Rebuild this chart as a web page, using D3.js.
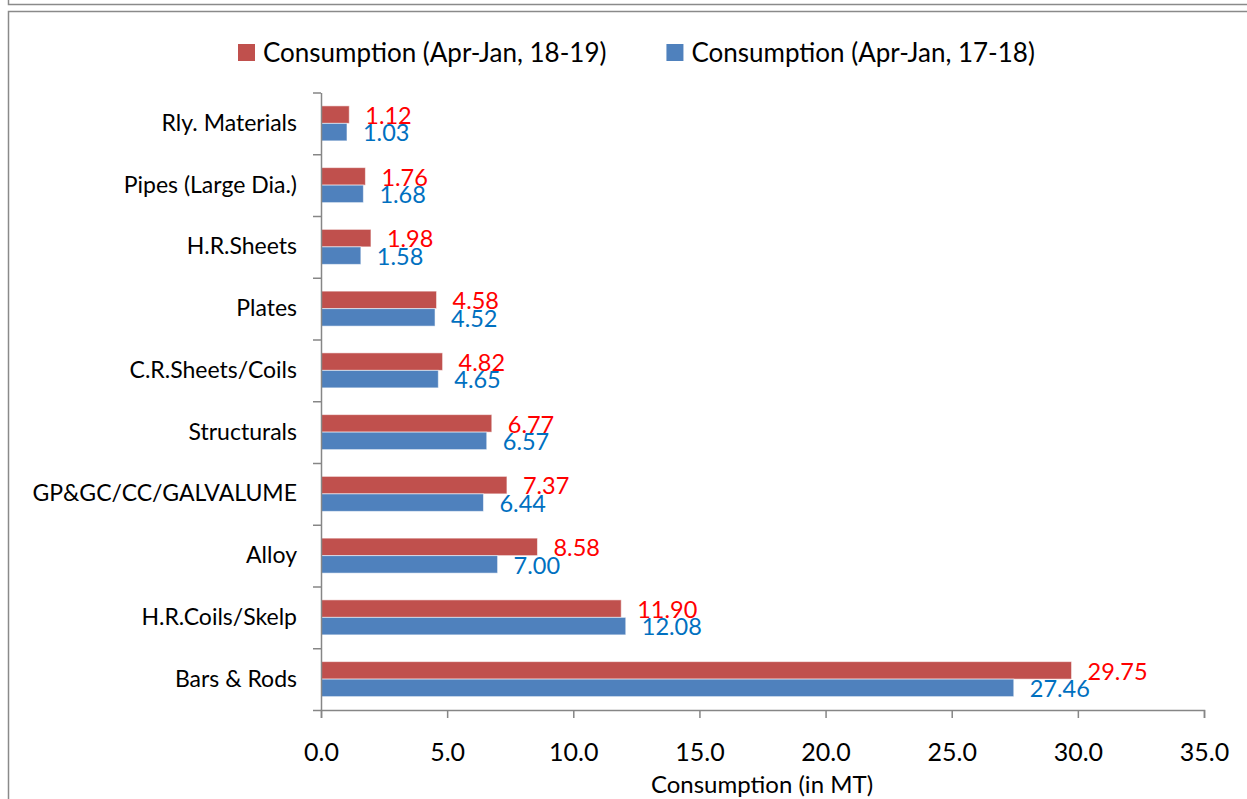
<!DOCTYPE html>
<html>
<head>
<meta charset="utf-8">
<script src="https://cdn.jsdelivr.net/npm/d3@7"></script>
<style>
  body { margin: 0; background: #fff; }
  svg { display: block; font-family: Lato, "Open Sans", sans-serif; }
</style>
</head>
<body>
<svg id="chart" width="1247" height="799"></svg>
<script>
// data, top to bottom as in the chart
const categories = ["Rly. Materials", "Pipes (Large Dia.)", "H.R.Sheets", "Plates", "C.R.Sheets/Coils",
    "Structurals", "GP&GC/CC/GALVALUME", "Alloy", "H.R.Coils/Skelp", "Bars & Rods"];
const cons1819 = [1.12, 1.76, 1.98, 4.58, 4.82, 6.77, 7.37, 8.58, 11.90, 29.75];
const cons1718 = [1.03, 1.68, 1.58, 4.52, 4.65, 6.57, 6.44, 7.00, 12.08, 27.46];
const seriesNames = ["Consumption (Apr-Jan, 18-19)", "Consumption (Apr-Jan, 17-18)"];
const xTicks = [0, 5, 10, 15, 20, 25, 30, 35];

const barColors = ["#C0504D", "#4F81BD"];
const labelColors = ["#FF0000", "#0070C0"];
const axisColor = "#868686";

const svg = d3.select("#chart");

// outer frame (worksheet look)
svg.append("path")
    .attr("d", "M8.5,0 V4.5 H1247")
    .attr("fill", "none").attr("stroke", "#8a8a8a").attr("stroke-width", 1.5);
svg.append("path")
    .attr("d", "M1247,11.5 H8.5 V799")
    .attr("fill", "none").attr("stroke", "#8a8a8a").attr("stroke-width", 1.5);

const x = d3.scaleLinear().domain([0, 35]).range([321, 1204]);
const y = d3.scaleBand().domain(categories).range([92.5, 710]);
const yIdx = d3.scaleLinear().domain([0, categories.length]).range([92.5, 710]);
const inner = d3.scaleBand().domain([0, 1]).range([0, y.bandwidth()]).paddingOuter(0.764);

const rows = categories.map((c, i) => ({ cat: c, vals: [cons1819[i], cons1718[i]] }));

const g = svg.append("g");

const groups = g.selectAll("g.row")
    .data(rows)
    .enter()
    .append("g")
    .attr("class", "row")
    .attr("transform", d => `translate(0,${y(d.cat)})`);

groups.selectAll("rect")
    .data(d => d.vals.map((v, s) => ({ v, s })))
    .enter()
    .append("rect")
    .attr("x", x(0))
    .attr("y", d => inner(d.s))
    .attr("width", d => x(d.v) - x(0))
    .attr("height", inner.bandwidth())
    .attr("fill", d => barColors[d.s])
    .attr("stroke", "rgba(255,255,255,0.55)")
    .attr("stroke-width", 1);

groups.selectAll("text.val")
    .data(d => d.vals.map((v, s) => ({ v, s })))
    .enter()
    .append("text")
    .attr("class", "val")
    .attr("x", d => x(d.v) + 16)
    .attr("y", d => inner(d.s) + inner.bandwidth() + 0.5)
    .attr("fill", d => labelColors[d.s])
    .attr("font-size", 23.5)
    .text(d => d.v.toFixed(2));

// x axis
const xAxis = g.append("g")
    .attr("transform", "translate(0,710)")
    .call(d3.axisBottom(x).tickValues(xTicks).tickFormat(d3.format(".1f")).tickSize(8).tickSizeOuter(8));
xAxis.selectAll("path, line").attr("stroke", axisColor).attr("stroke-width", 1.5);
xAxis.selectAll("text")
    .attr("y", 51).attr("dy", 0)
    .attr("font-size", 25).attr("font-family", "Lato").attr("fill", "#000");

// y axis line + ticks at band edges
const yAxis = g.append("g")
    .attr("transform", "translate(321,0)")
    .call(d3.axisLeft(yIdx).tickValues(d3.range(categories.length + 1)).tickFormat("").tickSize(8).tickSizeOuter(0));
yAxis.selectAll("path, line").attr("stroke", axisColor).attr("stroke-width", 1.5);

// category labels
const yLab = g.append("g")
    .attr("transform", "translate(321,0)")
    .call(d3.axisLeft(y).tickSize(0).tickPadding(24));
yLab.select(".domain").remove();
yLab.selectAll("text")
    .attr("font-size", 23).attr("font-family", "Lato").attr("fill", "#000");

// axis title
svg.append("text")
    .attr("x", 762).attr("y", 793)
    .attr("text-anchor", "middle")
    .attr("font-size", 24)
    .text("Consumption (in MT)");

// legend
const legend = svg.append("g").attr("transform", "translate(238,0)");
let lx = 0;
seriesNames.forEach((name, i) => {
    const item = legend.append("g").attr("transform", `translate(${lx},0)`);
    item.append("rect").attr("x", 0).attr("y", 44).attr("width", 17).attr("height", 17).attr("fill", barColors[i]);
    const t = item.append("text").attr("x", 25).attr("y", 62).attr("font-size", 26).text(name);
    lx += 25 + t.node().getComputedTextLength() + 60;
});
</script>
</body>
</html>
